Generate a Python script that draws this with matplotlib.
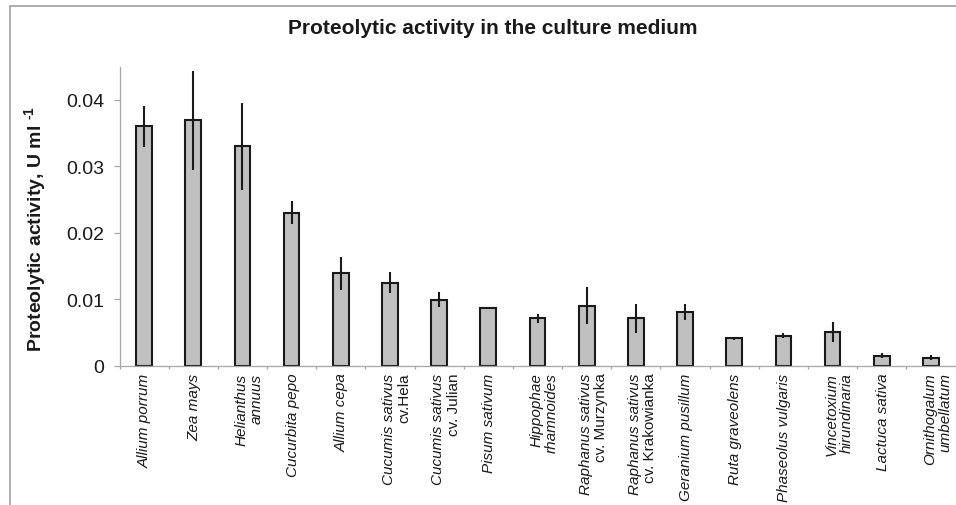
import matplotlib
matplotlib.use("Agg")
import matplotlib.pyplot as plt
from matplotlib.patches import Rectangle
from matplotlib.ticker import FixedLocator, FuncFormatter
import numpy as np

plt.rcParams['font.family'] = ['Liberation Sans', 'DejaVu Sans']
plt.rcParams['mathtext.fontset'] = 'custom'
plt.rcParams['mathtext.rm'] = 'Liberation Sans:bold'
plt.rcParams['mathtext.bf'] = 'Liberation Sans:bold'
plt.rcParams['mathtext.it'] = 'Liberation Sans:italic'

# Species (first line, italic) and optional second line
species = ["Allium porrum", "Zea mays", "Helianthus", "Cucurbita pepo", "Allium cepa",
           "Cucumis sativus", "Cucumis sativus", "Pisum sativum", "Hippophae",
           "Raphanus sativus", "Raphanus sativus", "Geranium pusillum", "Ruta graveolens",
           "Phaseolus vulgaris", "Vincetoxium", "Lactuca sativa", "Ornithogalum"]
second_line = ["", "", "annuus", "", "", "cv.Hela", "cv. Julian", "", "rhamnoides",
               "cv. Murzynka", "cv. Krakowianka", "", "", "", "hirundinaria", "", "umbellatum"]

activity = [0.0360, 0.0369, 0.0330, 0.0230, 0.0139, 0.0125, 0.0099, 0.0087, 0.0071,
            0.0090, 0.0071, 0.0081, 0.0041, 0.0045, 0.0050, 0.0015, 0.0012]
error = [0.0031, 0.0075, 0.0066, 0.0017, 0.0025, 0.0016, 0.0011, 0.0, 0.0007,
         0.0028, 0.0022, 0.0012, 0.0002, 0.0004, 0.0015, 0.0004, 0.0004]

yticks = [0, 0.01, 0.02, 0.03, 0.04]

W, H, DPI = 956, 506, 100
fig = plt.figure(figsize=(W / DPI, H / DPI), dpi=DPI)

# outer chart frame
fig.patches.append(Rectangle((10 / W, -0.2), 1.2, 1.2 - 7.3 / H,
                             transform=fig.transFigure, fill=False,
                             edgecolor='#969696', linewidth=1.1, clip_on=False))

ax_left, ax_right = 119.5, 955.5
ax_top, ax_bottom = 67.7, 366.5
ax = fig.add_axes([ax_left / W, 1 - ax_bottom / H,
                   (ax_right - ax_left) / W, (ax_bottom - ax_top) / H])

x = np.arange(len(activity))
ax.bar(x, activity, width=0.32, color='#c0c0c0', edgecolor='#1a1a1a',
       linewidth=1.5, zorder=2)
ax.errorbar(x, activity, yerr=error, fmt='none', ecolor='#1a1a1a',
            elinewidth=1.5, capsize=0, zorder=3)

ax.set_xlim(-0.5, len(activity) - 0.5)
ax.set_ylim(0, 0.045)

for side in ('top', 'right'):
    ax.spines[side].set_visible(False)
for side in ('left', 'bottom'):
    ax.spines[side].set_color('#a6a6a6')
    ax.spines[side].set_linewidth(0.9)

ax.yaxis.set_major_locator(FixedLocator(yticks))
ax.yaxis.set_major_formatter(FuncFormatter(lambda v, p: "0" if v == 0 else f"{v:.2f}"))
ax.tick_params(axis='y', direction='out', length=4.5, width=0.9, color='#a6a6a6',
               labelsize=14, pad=6.5, labelcolor='#1a1a1a')
ax.xaxis.set_major_locator(FixedLocator(np.arange(-0.5, len(activity), 1.0)))
ax.tick_params(axis='x', direction='out', length=2.5, width=0.9, color='#a6a6a6',
               labelbottom=False)

# category labels, rotated; cultivar lines upright, species italic
pt = 72.0 / DPI
for i, (a, b) in enumerate(zip(species, second_line)):
    if b:
        offsets = [(a, -1.0, 'italic'), (b, 14.5, 'normal' if b.startswith('cv') else 'italic')]
    else:
        offsets = [(a, 1.0, 'italic')]
    for txt, dx, st in offsets:
        ax.annotate(txt, xy=(i, 0), xycoords=('data', 'axes fraction'),
                    xytext=(dx * pt, -7 * pt), textcoords='offset points',
                    rotation=90, ha='center', va='top', fontsize=11,
                    style=st, color='#1a1a1a', annotation_clip=False)

fig.text(493 / W, 1 - 29 / H, "Proteolytic activity in the culture medium",
         ha='center', va='center', fontsize=15, fontweight='bold', color='#1a1a1a')
fig.text(35 / W, 1 - 229 / H, r"Proteolytic activity, U ml $^{\text{-1}}$",
         rotation=90, ha='center', va='center', fontsize=14, fontweight='bold',
         color='#1a1a1a')

fig.savefig("out.png", dpi=DPI)
